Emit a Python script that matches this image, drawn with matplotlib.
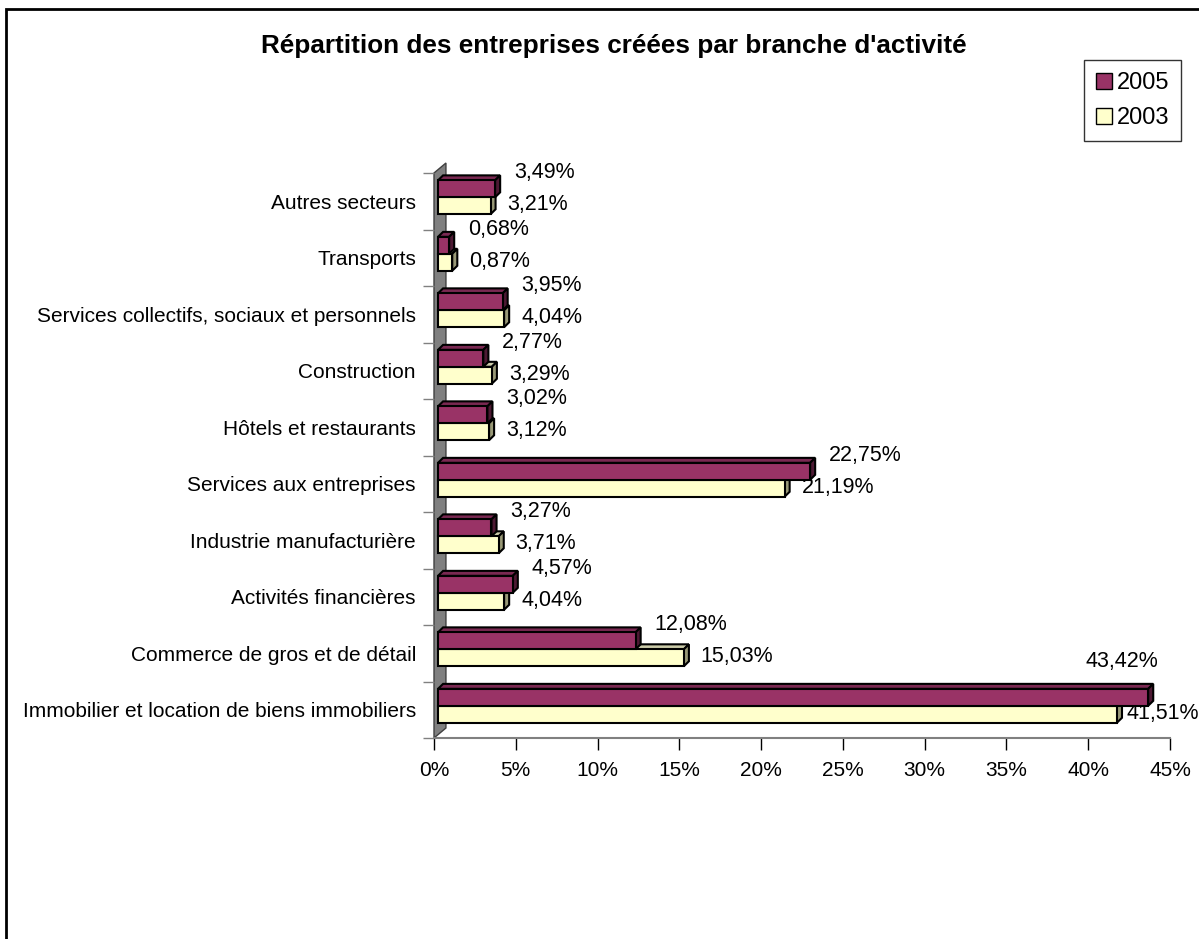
import matplotlib
matplotlib.use("Agg")
import matplotlib.pyplot as plt
from matplotlib.patches import Polygon, Rectangle
from matplotlib.lines import Line2D
from matplotlib.ticker import FixedLocator
import numpy as np

plt.rcParams['font.family'] = ['Liberation Sans', 'DejaVu Sans']

# data, bottom to top
categories = ["Immobilier et location de biens immobiliers",
              "Commerce de gros et de détail",
              "Activités financières",
              "Industrie manufacturière",
              "Services aux entreprises",
              "Hôtels et restaurants",
              "Construction",
              "Services collectifs, sociaux et personnels",
              "Transports",
              "Autres secteurs"]
values_2005 = [43.42, 12.08, 4.57, 3.27, 22.75, 3.02, 2.77, 3.95, 0.68, 3.49]
values_2003 = [41.51, 15.03, 4.04, 3.71, 21.19, 3.12, 3.29, 4.04, 0.87, 3.21]
series_names = ["2005", "2003"]
x_ticks = [0, 5, 10, 15, 20, 25, 30, 35, 40, 45]

title = "Répartition des entreprises créées par branche d'activité"

# colours (face, side, top)
col_2005 = ("#993366", "#4d1933", "#7a2952")
col_2003 = ("#ffffcc", "#999977", "#ccccaa")

# 3d look, in data units
FRONT_DX = 0.245     # bars start a bit right of the wall
DEPTH_X = 0.31
DEPTH_Y = 0.088
BAR_H = 0.30
WALL_DX = 0.73
WALL_DY = 0.177

W, H = 1199, 939
fig = plt.figure(figsize=(W / 100, H / 100), dpi=100)
ax = fig.add_axes([434 / W, (H - 738) / H, 736 / W, (738 - 173) / H])
ax.set_xlim(0, 45)
ax.set_ylim(-0.5, 9.5)


def bar3d(y0, length, cols, z):
    face, side, top = cols
    x0 = FRONT_DX
    x1 = x0 + length
    y1 = y0 + BAR_H
    kw = dict(edgecolor="black", linewidth=1.5, clip_on=False, zorder=z,
              joinstyle="miter")
    ax.add_patch(Polygon([(x0, y1), (x1, y1), (x1 + DEPTH_X, y1 + DEPTH_Y),
                          (x0 + DEPTH_X, y1 + DEPTH_Y)], facecolor=top, **kw))
    ax.add_patch(Polygon([(x1, y0), (x1 + DEPTH_X, y0 + DEPTH_Y),
                          (x1 + DEPTH_X, y1 + DEPTH_Y), (x1, y1)],
                         facecolor=side, **kw))
    ax.add_patch(Rectangle((x0, y0), length, BAR_H, facecolor=face, **kw))
    return x1, y0 + BAR_H / 2


# wall
ax.add_patch(Polygon([(0, -0.5), (WALL_DX, -0.5 + WALL_DY),
                      (WALL_DX, 9.5 + WALL_DY), (0, 9.5)],
                     facecolor="#808080", edgecolor="#404040", linewidth=1,
                     clip_on=False, zorder=1))


def fmt(v):
    return f"{v:.2f}%".replace(".", ",")


for i, (v5, v3) in enumerate(zip(values_2005, values_2003)):
    mid = i + 0.07
    xe3, yc3 = bar3d(mid - BAR_H, v3, col_2003, 3 + i * 2)
    xe5, yc5 = bar3d(mid, v5, col_2005, 4 + i * 2)
    # labels near the right edge get pulled in like excel does
    dx3 = 10 if v3 > 40 else 17
    ax.annotate(fmt(v3), xy=(xe3, yc3), xytext=(dx3, 1),
                textcoords="offset pixels", ha="left", va="center",
                fontsize=15.5, annotation_clip=False)
    if v5 > 40:
        ax.annotate(fmt(v5), xy=(xe5, yc5), xytext=(-26, 36),
                    textcoords="offset pixels", ha="center", va="center",
                    fontsize=15.5, annotation_clip=False)
    else:
        ax.annotate(fmt(v5), xy=(xe5, yc5), xytext=(19, 16),
                    textcoords="offset pixels", ha="left", va="center",
                    fontsize=15.5, annotation_clip=False)

# axes
for s in ["top", "right", "left"]:
    ax.spines[s].set_visible(False)
ax.spines["bottom"].set_color("#808080")
ax.spines["bottom"].set_linewidth(1.5)

ax.set_xticks(x_ticks)
ax.set_xticklabels([f"{t}%" for t in x_ticks], fontsize=15)
ax.tick_params(axis="x", length=8.6, width=1, color="black", pad=8)

ax.set_yticks(range(len(categories)))
ax.set_yticklabels(categories, fontsize=15)
ax.tick_params(axis="y", which="major", length=0, pad=13)
ax.yaxis.set_minor_locator(FixedLocator(np.arange(-0.5, 10, 1)))
ax.tick_params(axis="y", which="minor", length=8, width=1, color="#808080")

fig.text(614 / W, 1 - 46 / H, title, ha="center", va="center",
         fontsize=18.8, fontweight="bold")

handles = [Line2D([], [], marker="s", ls="", ms=12, mfc=col_2005[0], mec="black"),
           Line2D([], [], marker="s", ls="", ms=12, mfc=col_2003[0], mec="black")]
leg = fig.legend(handles, series_names, loc="upper right",
                 bbox_to_anchor=(1181 / W, 1 - 60 / H), bbox_transform=fig.transFigure,
                 fontsize=17, frameon=True, fancybox=False, handlelength=0.7,
                 handletextpad=0.2, labelspacing=0.55, borderpad=0.5,
                 borderaxespad=0)
leg.get_frame().set_edgecolor("black")
leg.get_frame().set_linewidth(1)

# outer chart border
fig.patches.append(Rectangle((6 / W, -0.1), 1.2, (H - 9) / H + 0.1,
                             transform=fig.transFigure, fill=False,
                             edgecolor="black", linewidth=2))

fig.savefig("out.png", dpi=100)
